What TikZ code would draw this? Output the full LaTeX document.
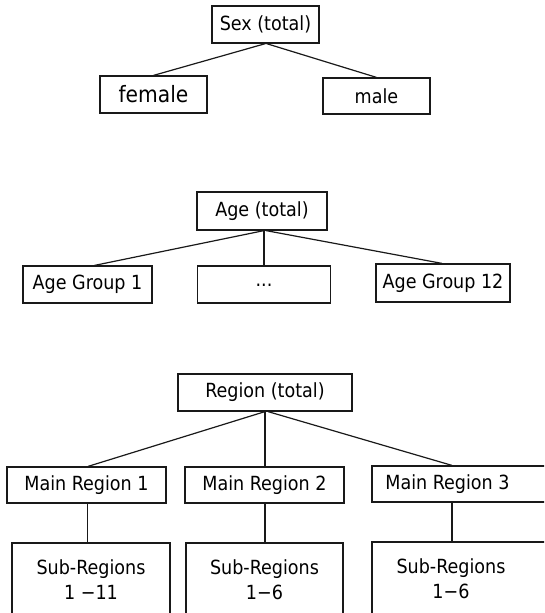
\documentclass[tikz,border=0pt]{standalone}
\usepackage{fontspec}
\setmainfont{DejaVu Sans Condensed}
\begin{document}
\begin{tikzpicture}[x=1pt,y=-1pt,
  box/.style={draw=black!90, line width=1.2pt, inner sep=0pt, align=center,
    font=\fontsize{19.5}{25}\selectfont},
  link/.style={draw=black!90, line width=1.2pt}]
\useasboundingbox (0,0) rectangle (544,613);
\clip (0,0) rectangle (544,613);

% sex hierarchy
\node[box, minimum width=107pt, minimum height=37pt] (sex) at (265.5,24.5) {Sex (total)};
\node[box, minimum width=107pt, minimum height=37pt, font=\fontsize{22.5}{27}\selectfont] (female) at (153.5,94.5) {female};
\node[box, minimum width=107pt, minimum height=36pt] (male) at (376.5,96) {male};
\draw[link] (sex.south) -- (female.north);
\draw[link] ([xshift=1pt]sex.south) -- (male.north);

% age hierarchy
\node[box, minimum width=130pt, minimum height=38pt] (age) at (262,211) {Age (total)};
\node[box, minimum width=129pt, minimum height=37pt] (ag1) at (87.5,284.5) {Age Group 1};
\node[box, minimum width=133pt, minimum height=37pt] (agdots) at (264,284.5) {\raisebox{-3pt}{...}};
\node[box, minimum width=134pt, minimum height=38pt] (ag12) at (443,283) {Age Group 12};
\draw[link] ([xshift=2pt]age.south) -- ([xshift=7pt]ag1.north);
\draw[link] ([xshift=2pt]age.south) -- (agdots.north);
\draw[link] ([xshift=4pt]age.south) -- ([xshift=-1pt]ag12.north);

% region hierarchy (the right column runs past the page edge)
\node[box, minimum width=174pt, minimum height=37pt] (reg) at (265,392.5) {Region (total)};
\node[box, minimum width=159pt, minimum height=36pt] (mr1) at (86.5,485) {Main Region 1};
\node[box, minimum width=159pt, minimum height=36pt] (mr2) at (264.5,485) {Main Region 2};
\node[box, minimum width=180pt, minimum height=36pt] (mr3) at (462,484) {Main Region 3\rule{29pt}{0pt}};
\node[box, minimum width=158pt, minimum height=74pt] (sr1) at (91,580) {Sub-Regions\\1 −11};
\node[box, minimum width=157pt, minimum height=74pt] (sr2) at (264.5,580) {Sub-Regions\\1−6};
\node[box, minimum width=180pt, minimum height=74pt] (sr3) at (462,579) {Sub-Regions\rule{22pt}{0pt}\\1−6\rule{22pt}{0pt}};

\coordinate (m1s) at ([xshift=1pt]mr1.south);
\coordinate (m2s) at ([xshift=0.5pt]mr2.south);
\coordinate (m3s) at ([xshift=-10pt]mr3.south);
\draw[link] (reg.south) -- ([xshift=1.5pt]mr1.north);
\draw[link] (reg.south) -- (mr2.north -| reg.south);
\draw[link] ([xshift=3pt]reg.south) -- ([xshift=-10pt]mr3.north);
\draw[link] (m1s) -- (m1s |- sr1.north);
\draw[link] (m2s) -- (m2s |- sr2.north);
\draw[link] (m3s) -- (m3s |- sr3.north);
\end{tikzpicture}
\end{document}
